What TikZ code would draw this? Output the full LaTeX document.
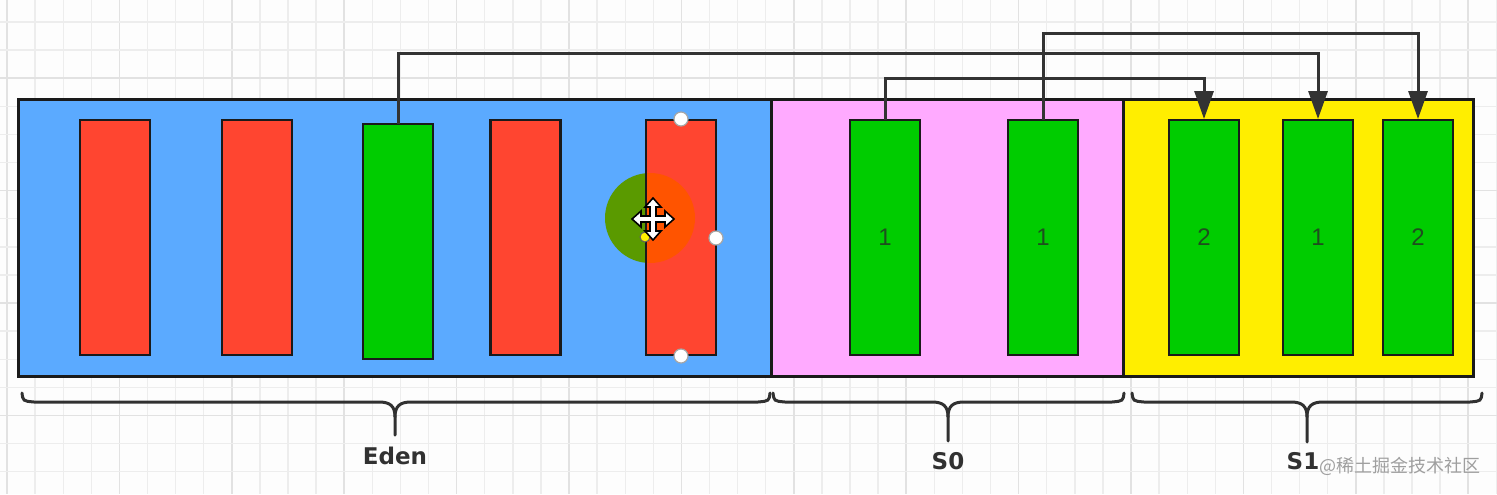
\documentclass[tikz,border=0pt]{standalone}
\usepackage{fontspec}
\setmainfont{DejaVu Sans}
\newfontfamily\numfont{Liberation Sans}
\newfontfamily\cjkfont{Noto Sans CJK SC}
\usetikzlibrary{arrows.meta}
\definecolor{bgwhite}{HTML}{FDFDFD}
\definecolor{gridminor}{HTML}{EDEDED}
\definecolor{gridmajor}{HTML}{E2E2E2}
\definecolor{edenblue}{HTML}{5BAAFF}
\definecolor{sopink}{HTML}{FFAAFF}
\definecolor{sayellow}{HTML}{FFEE00}
\definecolor{barred}{HTML}{FF4530}
\definecolor{bargreen}{HTML}{00CC00}
\definecolor{edgedark}{HTML}{1A1A1A}
\definecolor{linkdark}{HTML}{333333}
\definecolor{numgreen}{HTML}{1E4E1E}
\definecolor{circgreen}{HTML}{5A9A00}
\definecolor{circorange}{HTML}{FF5400}
\tikzset{
  region/.style={draw=edgedark, line width=1.5pt, minimum height=138.5pt, inner sep=0pt, outer sep=0pt},
  barbox/.style={draw=edgedark, line width=1.25pt, minimum width=35pt, minimum height=117.5pt, inner sep=0pt, outer sep=0pt,
    font=\numfont\fontsize{12}{14}\selectfont, text=numgreen},
  redbar/.style={barbox, fill=barred},
  greenbar/.style={barbox, fill=bargreen},
  link/.style={draw=linkdark, line width=1.5pt, -{Triangle[length=14pt,width=9.5pt]}, shorten >=0.5pt},
  bracestyle/.style={draw=edgedark!90, line width=1.5pt, line cap=round},
  lbl/.style={font=\bfseries\fontsize{11.5}{13}\selectfont, text=edgedark!90, inner sep=0pt},
  handle/.style={draw=gray!70, fill=white, line width=0.6pt},
}
\newcommand{\gcbrace}[4]{%
  \draw[bracestyle] (#1,393) .. controls (#1+1,401) .. (#1+12,402) -- (#3-16,402)
     .. controls (#3-5,402) and (#3,406) .. (#3,417) -- (#3,#4);
  \draw[bracestyle] (#3,417) .. controls (#3,406) and (#3+5,402) .. (#3+16,402)
     -- (#2-12,402) .. controls (#2-1,401) .. (#2,393);}
\begin{document}
\begin{tikzpicture}[x=0.5pt,y=-0.5pt]
\useasboundingbox (0,0) rectangle (1497,494);
\fill[bgwhite] (0,0) rectangle (1497,494);
% grid
\foreach \i in {0,...,53} {
  \pgfmathsetmacro{\gx}{7+28.1*\i}
  \pgfmathtruncatemacro{\gm}{mod(\i,4)}
  \ifnum\gm=0
    \draw[gridmajor, line width=0.8pt] (\gx,0) -- (\gx,494);
  \else
    \draw[gridminor, line width=0.7pt] (\gx,0) -- (\gx,494);
  \fi
}
\foreach \j in {0,...,16} {
  \pgfmathsetmacro{\gy}{22+28.1*\j}
  \pgfmathtruncatemacro{\gm}{mod(\j,4)}
  \ifnum\gm=2
    \draw[gridmajor, line width=0.8pt] (0,\gy) -- (1497,\gy);
  \else
    \draw[gridminor, line width=0.7pt] (0,\gy) -- (1497,\gy);
  \fi
}
% regions
\node[region, fill=edenblue, minimum width=376.5pt] (eden) at (394.5,237.5) {};
\node[region, fill=sopink, minimum width=176pt] (szero) at (947,237.5) {};
\node[region, fill=sayellow, minimum width=175pt] (sone) at (1298,237.5) {};
% Eden bars
\node[redbar] (e1) at (115,237.5) {};
\node[redbar] (e2) at (257,237.5) {};
\node[greenbar] (e3) at (398,241.5) {};
\node[redbar] (e4) at (525.5,237.5) {};
\node[redbar] (e5) at (681,237.5) {};
% S0 bars
\node[greenbar] (s01) at (885,237.5) {1};
\node[greenbar] (s02) at (1043,237.5) {1};
% S1 bars
\node[greenbar] (s11) at (1204,237.5) {2};
\node[greenbar] (s12) at (1318,237.5) {1};
\node[greenbar] (s13) at (1418,237.5) {2};
% connectors
\draw[link] (e3.north) -- ++(0,-71) -| (s12.north);
\draw[link] (s01.north) -- ++(0,-42) -| (s11.north);
\draw[link] (s02.north) -- ++(0,-87) -| (s13.north);
% braces
\gcbrace{22}{770}{395}{435}
\gcbrace{773}{1124}{948}{441}
\gcbrace{1132}{1482}{1307}{442}
\node[lbl] (edenlbl) at (395,456) {Eden};
\node[lbl] (s0lbl) at (948,461) {S0};
\node[lbl] (s1lbl) at (1303,461) {S1};
% selection overlay on the fifth Eden bar
\begin{scope}
  \clip (600,160) rectangle (646,280);
  \fill[circgreen] (650,218) circle (45);
\end{scope}
\begin{scope}
  \clip (646,160) rectangle (716,280);
  \fill[circorange] (650,218) circle (45);
\end{scope}
\draw[edgedark, line width=1.25pt] (e5.north west) rectangle (e5.south east);
\fill[sayellow, draw=edgedark!70, line width=0.5pt] (645,237) circle (5);
\draw[fill=white, draw=black, line width=0.8pt, line join=miter, shift={(653,219)}]
  (-3,-3) -- (-3,-12) -- (-8,-12) -- (0,-21) -- (8,-12) -- (3,-12) -- (3,-3)
  -- (12,-3) -- (12,-8) -- (21,0) -- (12,8) -- (12,3) -- (3,3)
  -- (3,12) -- (8,12) -- (0,21) -- (-8,12) -- (-3,12) -- (-3,3)
  -- (-12,3) -- (-12,8) -- (-21,0) -- (-12,-8) -- (-12,-3) -- cycle;
\draw[handle] (681,119) circle (7);
\draw[handle] (716,238) circle (7);
\draw[handle] (681,356) circle (7);
% watermark
\node[font=\cjkfont\fontsize{9}{11}\selectfont, text=gray!75, inner sep=0pt] (wm) at (1400,466) {@稀土掘金技术社区};
\end{tikzpicture}
\end{document}
